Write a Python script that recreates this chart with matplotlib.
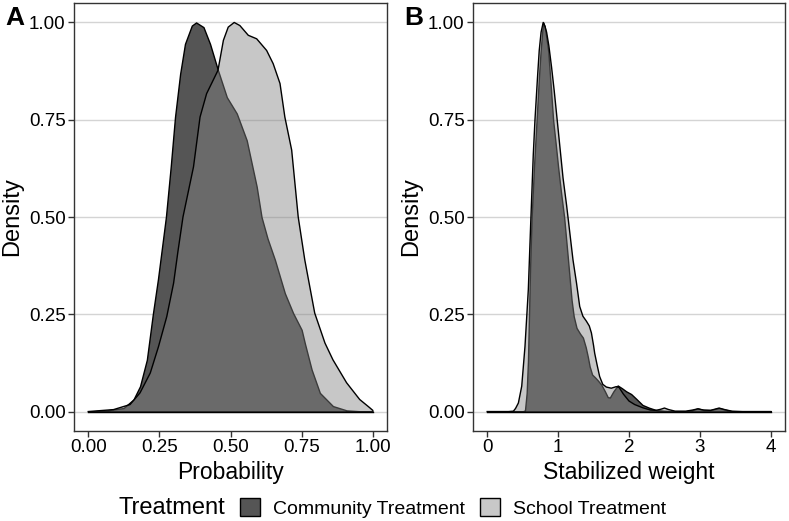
import matplotlib
matplotlib.use("Agg")
import matplotlib.pyplot as plt
import matplotlib.patches as mpatches

plt.rcParams['font.family'] = ['Liberation Sans', 'DejaVu Sans']

# Panel A: propensity (probability) densities, scaled to max 1
prob_comm_x = [0.0, 0.065, 0.124, 0.159, 0.182, 0.206, 0.227, 0.245, 0.273, 0.29, 0.305, 0.323,
               0.34, 0.364, 0.379, 0.405, 0.428, 0.456, 0.487, 0.522, 0.557, 0.592, 0.609, 0.63,
               0.656, 0.691, 0.72, 0.75, 0.761, 0.785, 0.814, 0.86, 0.908, 0.95, 1.0]
prob_comm_y = [0.0, 0.003, 0.009, 0.031, 0.065, 0.133, 0.25, 0.34, 0.50, 0.63, 0.757, 0.868,
               0.945, 0.992, 1.0, 0.988, 0.945, 0.877, 0.808, 0.766, 0.697, 0.578, 0.50, 0.445,
               0.39, 0.304, 0.253, 0.21, 0.176, 0.108, 0.048, 0.014, 0.003, 0.001, 0.0]

prob_school_x = [0.0, 0.089, 0.147, 0.182, 0.218, 0.247, 0.276, 0.30, 0.315, 0.333, 0.37, 0.393,
                 0.416, 0.456, 0.475, 0.492, 0.513, 0.533, 0.5625, 0.592, 0.627, 0.65, 0.674,
                 0.691, 0.715, 0.738, 0.761, 0.796, 0.832, 0.86, 0.908, 0.954, 0.989, 1.0]
prob_school_y = [0.0, 0.005, 0.018, 0.048, 0.099, 0.167, 0.244, 0.33, 0.41, 0.50, 0.629, 0.757,
                 0.817, 0.877, 0.954, 0.988, 1.0, 0.992, 0.967, 0.958, 0.928, 0.894, 0.843,
                 0.757, 0.672, 0.50, 0.39, 0.253, 0.176, 0.133, 0.074, 0.031, 0.01, 0.003]

# Panel B: stabilized weight densities, scaled to max 1
wt_comm_x = [0.0, 0.45, 0.50, 0.533, 0.557, 0.575, 0.59, 0.605, 0.627, 0.66, 0.697, 0.73, 0.754,
             0.775, 0.79, 0.81, 0.835, 0.86, 0.895, 0.93, 0.965, 1.0, 1.04, 1.085, 1.14, 1.19,
             1.22, 1.26, 1.31, 1.35, 1.39, 1.42, 1.445, 1.48, 1.52, 1.56, 1.61, 1.66, 1.70,
             1.73, 1.78, 1.84, 1.90, 1.96, 2.03, 2.10, 2.19, 2.28, 2.38, 2.5, 2.6, 2.8, 2.9,
             2.97, 3.05, 3.15, 3.27, 3.35, 3.45, 3.6, 4.0]
wt_comm_y = [0.0, 0.0, 0.0005, 0.003, 0.048, 0.13, 0.25, 0.37, 0.50, 0.63, 0.75, 0.86, 0.928,
             0.975, 1.0, 0.99, 0.96, 0.928, 0.84, 0.749, 0.69, 0.629, 0.565, 0.50, 0.39, 0.287,
             0.245, 0.215, 0.20, 0.19, 0.165, 0.14, 0.116, 0.095, 0.088, 0.08, 0.069, 0.052,
             0.037, 0.036, 0.052, 0.067, 0.06, 0.052, 0.045, 0.033, 0.017, 0.010, 0.004, 0.002,
             0.001, 0.001, 0.004, 0.008, 0.004, 0.004, 0.009, 0.005, 0.001, 0.0, 0.0]

wt_school_x = [0.0, 0.30, 0.37, 0.40, 0.44, 0.487, 0.533, 0.58, 0.615, 0.65, 0.674, 0.71, 0.734,
               0.76, 0.79, 0.815, 0.838, 0.87, 0.908, 0.945, 0.978, 1.07, 1.12, 1.165, 1.21,
               1.26, 1.305, 1.35, 1.40, 1.44, 1.47, 1.50, 1.516, 1.55, 1.586, 1.63, 1.68, 1.75,
               1.82, 1.86, 1.92, 2.0, 2.08, 2.19, 2.3, 2.38, 2.45, 2.5, 2.56, 2.65, 2.8, 2.9,
               2.97, 3.05, 3.15, 3.27, 3.35, 3.45, 3.6, 4.0]
wt_school_y = [0.0, 0.0, 0.001, 0.008, 0.022, 0.065, 0.167, 0.313, 0.49, 0.66, 0.75, 0.86, 0.928,
               0.975, 1.0, 0.99, 0.975, 0.94, 0.885, 0.825, 0.766, 0.60, 0.53, 0.46, 0.39,
               0.33, 0.27, 0.245, 0.232, 0.22, 0.202, 0.17, 0.15, 0.12, 0.09, 0.07, 0.063, 0.06,
               0.064, 0.062, 0.045, 0.027, 0.018, 0.010, 0.004, 0.003, 0.006, 0.009, 0.005,
               0.001, 0.001, 0.004, 0.007, 0.004, 0.003, 0.009, 0.005, 0.001, 0.0, 0.0]

groups = ['Community Treatment', 'School Treatment']
dark = '#555555'
light = '#848484'
light_alpha = 0.45

W, H = 789, 521
fig = plt.figure(figsize=(W / 100, H / 100), dpi=100)

ax_a = fig.add_axes([74 / W, 1 - 431 / H, (387 - 74) / W, (431 - 3) / H])
ax_b = fig.add_axes([473 / W, 1 - 431 / H, (785 - 473) / W, (431 - 3) / H])


def style(ax):
    ax.set_ylim(-0.05, 1.05)
    ax.set_yticks([0, 0.25, 0.5, 0.75, 1.0])
    ax.set_yticklabels(['0.00', '0.25', '0.50', '0.75', '1.00'])
    ax.grid(axis='y', color='#d4d4d4', lw=1.0)
    ax.set_axisbelow(True)
    for s in ax.spines.values():
        s.set_color('#333333')
        s.set_linewidth(1.0)
    ax.tick_params(length=4, width=1, color='#333333', labelsize=13.5,
                   labelcolor='black', pad=2)
    ax.set_ylabel('Density', fontsize=17, labelpad=4)


# panel A
ax_a.fill_between(prob_comm_x, prob_comm_y, facecolor=dark, edgecolor='black', lw=1.0)
ax_a.fill_between(prob_school_x, prob_school_y, facecolor=light, alpha=light_alpha,
                  edgecolor='none')
ax_a.plot(prob_school_x, prob_school_y, color='black', lw=1.0)
ax_a.plot([0, 1], [0, 0], color='black', lw=1.0)
ax_a.set_xlim(-0.05, 1.05)
ax_a.set_xticks([0, 0.25, 0.5, 0.75, 1.0])
ax_a.set_xticklabels(['0.00', '0.25', '0.50', '0.75', '1.00'])
ax_a.set_xlabel('Probability', fontsize=16.5, labelpad=3)
style(ax_a)

# panel B
ax_b.fill_between(wt_comm_x, wt_comm_y, facecolor=dark, edgecolor='black', lw=1.0)
ax_b.fill_between(wt_school_x, wt_school_y, facecolor=light, alpha=light_alpha, edgecolor='none')
ax_b.plot(wt_school_x, wt_school_y, color='black', lw=1.0)
ax_b.plot([0, 4], [0, 0], color='black', lw=1.0)
ax_b.set_xlim(-0.2, 4.2)
ax_b.set_xticks([0, 1, 2, 3, 4])
ax_b.set_xlabel('Stabilized weight', fontsize=16.5, labelpad=3)
style(ax_b)

fig.text(5 / W, 1 - 25 / H, 'A', fontsize=19, fontweight='bold', va='baseline')
fig.text(404 / W, 1 - 25 / H, 'B', fontsize=19, fontweight='bold', va='baseline')

# legend
handles = [mpatches.Patch(facecolor=dark, edgecolor='black', lw=1.0),
           mpatches.Patch(facecolor='#c8c8c8', edgecolor='black', lw=1.0)]
fig.text(118 / W, 1 - 508 / H, 'Treatment', fontsize=17, va='center', ha='left')
fig.legend(handles, groups, loc='center left', bbox_to_anchor=(240 / W, 1 - 508 / H),
           ncol=2, frameon=False, fontsize=14, handlelength=1.05, handleheight=1.05,
           handletextpad=0.65, columnspacing=0.75, borderpad=0, borderaxespad=0)

fig.savefig('out.png', dpi=100)
